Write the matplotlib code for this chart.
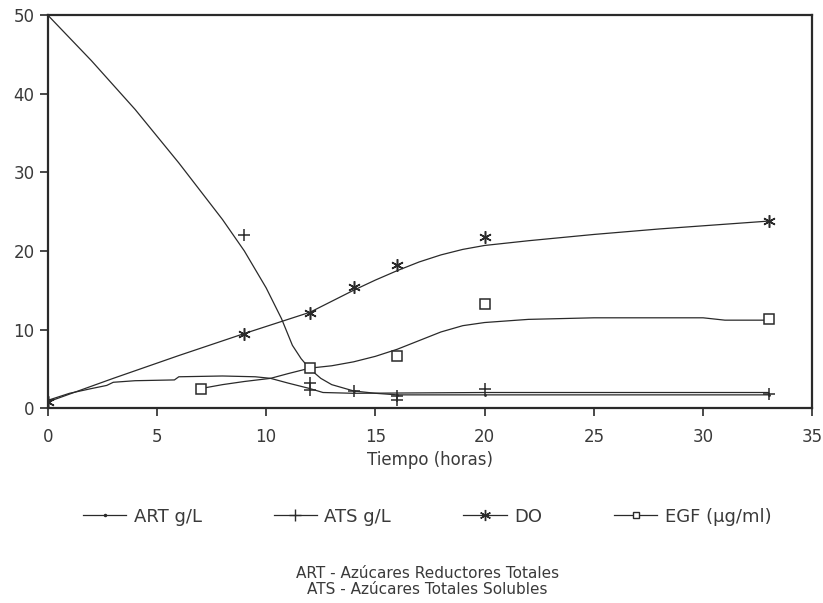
import numpy as np
import matplotlib
matplotlib.use("Agg")
import matplotlib.pyplot as plt

# smooth fitted curves (tiempo, valor)
art_t = [0, 2, 4, 6, 8, 9, 10, 10.7, 11.2, 11.6, 12, 12.5, 13, 14, 15, 16, 20, 25, 33]
art_v = [50, 44.2, 38.0, 31.2, 24.0, 20.0, 15.3, 11.4, 8.0, 6.3, 5.0, 3.8, 3.0, 2.2, 1.9, 1.7, 1.7, 1.7, 1.7]

ats_t = [0, 1, 2, 2.7, 3, 4, 5.8, 6, 8, 9.5, 10.2, 11, 12, 12.6, 14, 20, 33]
ats_v = [1.0, 1.9, 2.5, 2.9, 3.3, 3.5, 3.6, 4.0, 4.1, 4.0, 3.8, 3.2, 2.5, 2.0, 1.9, 2.0, 2.0]

do_t = [0, 3, 6, 9, 11, 12, 13, 14, 15, 16, 17, 18, 19, 20, 22, 25, 28, 31, 33]
do_v = [0.8, 3.8, 6.7, 9.5, 11.3, 12.2, 13.6, 15.0, 16.3, 17.5, 18.6, 19.5, 20.2, 20.7, 21.3, 22.1, 22.8, 23.4, 23.8]

egf_t = [7, 8, 9, 10.2, 11, 12, 13, 14, 15, 16, 17, 18, 19, 20, 22, 25, 30, 31, 33]
egf_v = [2.5, 3.0, 3.4, 3.8, 4.4, 5.1, 5.4, 5.9, 6.6, 7.5, 8.6, 9.7, 10.5, 10.9, 11.3, 11.5, 11.5, 11.2, 11.2]

# measured points
art_pt_t = [0, 12, 14, 16, 20, 33]
art_pt_v = [50, 5.0, 2.2, 1.7, 1.7, 1.7]

ats_pt_t = [0, 9, 12, 12, 14, 16, 16, 20, 33]
ats_pt_v = [1.0, 22, 3.2, 2.3, 2.2, 1.6, 1.1, 2.5, 1.8]

do_pt_t = [0, 9, 12, 14, 16, 20, 33]
do_pt_v = [0.8, 9.5, 12.1, 15.4, 18.2, 21.8, 23.8]

egf_pt_t = [7, 12, 16, 20, 33]
egf_pt_v = [2.5, 5.1, 6.7, 13.3, 11.3]

xticks = [0, 5, 10, 15, 20, 25, 30, 35]
yticks = [0, 10, 20, 30, 40, 50]

fig = plt.figure(figsize=(8.23, 6.03), dpi=100)
ax = fig.add_axes([0.058, 0.323, 0.929, 0.652])

lc = '#2a2a2a'
tc = '#3a3a3a'
lw = 0.9
ax.plot(art_t, art_v, '-', color=lc, lw=lw)
ax.plot(ats_t, ats_v, '-', color=lc, lw=lw)
ax.plot(do_t, do_v, '-', color=lc, lw=lw)
ax.plot(egf_t, egf_v, '-', color=lc, lw=lw)

ax.plot(art_pt_t, art_pt_v, '.', color=lc, ms=2)
ax.plot(ats_pt_t, ats_pt_v, '+', color=lc, ms=9, mew=1.1)
ax.plot(do_pt_t, do_pt_v, marker=(6, 2, 0), ls='none', color=lc, ms=9, mew=1.1)
ax.plot(egf_pt_t, egf_pt_v, 's', mfc='white', mec=lc, ms=7, mew=1.1)

# legend handles: line with marker
h_art, = ax.plot([], [], '-', marker='.', color=lc, lw=lw, ms=3, label='ART g/L')
h_ats, = ax.plot([], [], '-', marker='+', color=lc, lw=lw, ms=8, label='ATS g/L')
h_do, = ax.plot([], [], '-', marker=(6, 2, 0), color=lc, lw=lw, ms=8, label='DO')
h_egf, = ax.plot([], [], '-', marker='s', mfc='white', mec=lc, color=lc, lw=lw, ms=5,
                 label='EGF (µg/ml)')

ax.set_xlim(0, 35)
ax.set_ylim(0, 50)
ax.set_xticks(xticks)
ax.set_yticks(yticks)
ax.tick_params(axis='both', direction='out', length=6, width=1.2, colors=lc,
               labelsize=12, labelcolor=tc)
ax.tick_params(axis='x', pad=8)
for s in ax.spines.values():
    s.set_linewidth(1.6)
    s.set_color(lc)

ax.set_xlabel('Tiempo (horas)', fontsize=12, color=tc, labelpad=4)

fig.legend(handles=[h_art, h_ats, h_do, h_egf], loc='center',
           bbox_to_anchor=(0.519, 0.143), ncol=4, frameon=False,
           fontsize=13, handlelength=2.4, columnspacing=4.0, handletextpad=0.4,
           labelcolor=tc)

fig.text(0.519, 0.036, 'ART - Azúcares Reductores Totales\nATS - Azúcares Totales Solubles',
         ha='center', va='center', fontsize=11, color=tc, linespacing=1.05)

fig.savefig('out.png', dpi=100)
